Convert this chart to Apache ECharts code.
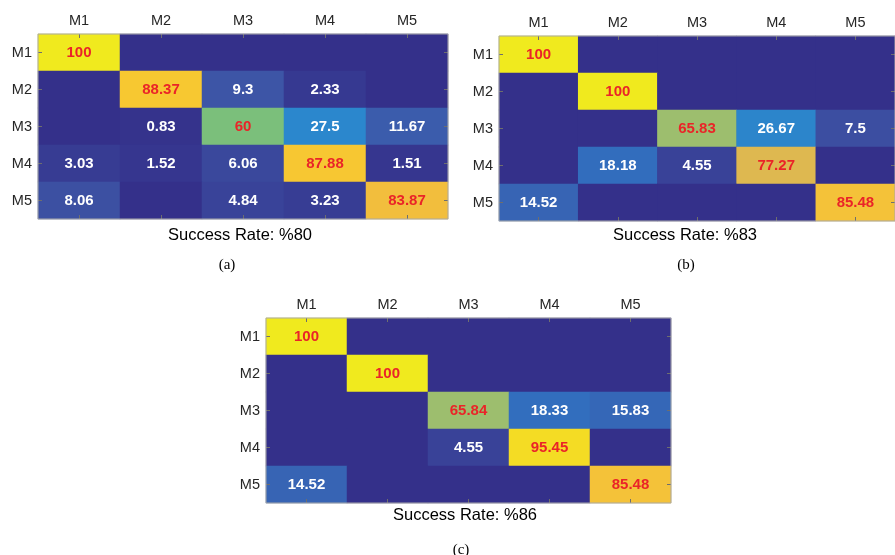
<!DOCTYPE html>
<html>
<head>
<meta charset="utf-8">
<script src="https://cdn.jsdelivr.net/npm/echarts@6/dist/echarts.min.js"></script>
<style>
html,body{margin:0;padding:0;background:#fff;}
#chart{width:895px;height:555px;}
</style>
</head>
<body>
<div id="chart"></div>
<script>
const categories = ['M1', 'M2', 'M3', 'M4', 'M5'];

const matrixA = [
  [100, 0, 0, 0, 0],
  [0, 88.37, 9.3, 2.33, 0],
  [0, 0.83, 60, 27.5, 11.67],
  [3.03, 1.52, 6.06, 87.88, 1.51],
  [8.06, 0, 4.84, 3.23, 83.87]
];
const matrixB = [
  [100, 0, 0, 0, 0],
  [0, 100, 0, 0, 0],
  [0, 0, 65.83, 26.67, 7.5],
  [0, 18.18, 4.55, 77.27, 0],
  [14.52, 0, 0, 0, 85.48]
];
const matrixC = [
  [100, 0, 0, 0, 0],
  [0, 100, 0, 0, 0],
  [0, 0, 65.84, 18.33, 15.83],
  [0, 0, 4.55, 95.45, 0],
  [14.52, 0, 0, 0, 85.48]
];
const successRates = ['Success Rate: %80', 'Success Rate: %83', 'Success Rate: %86'];
const panelLabels = ['(a)', '(b)', '(c)'];

const matrices = [matrixA, matrixB, matrixC];
const grids = [
  {left: 38, top: 34, width: 410, height: 185},
  {left: 499, top: 36, width: 405, height: 185},
  {left: 266, top: 318, width: 405, height: 185}
];
const captionPos = [
  {sx: 240, sy: 235, lx: 227, ly: 265},
  {sx: 685, sy: 235, lx: 686, ly: 265},
  {sx: 465, sy: 515, lx: 461, ly: 550}
];

const sans = '"Liberation Sans", Arial, Helvetica, sans-serif';
const RED = '#ea2428';
const ZERO_COLOR = '#34308a';

const xAxes = [], yAxes = [], series = [], graphics = [];
matrices.forEach((m, gi) => {
  const tickStyle = {show: true, inside: true, length: 4, alignWithLabel: true, lineStyle: {color: '#6e6e6e', width: 1}};
  xAxes.push({
    type: 'category', data: categories, gridIndex: gi, position: 'top', z: 5,
    axisLine: {show: false}, axisTick: tickStyle, splitLine: {show: false},
    axisLabel: {color: '#262626', fontSize: 14.5, fontFamily: sans, margin: 6}
  });
  xAxes.push({
    type: 'category', data: categories, gridIndex: gi, position: 'bottom', z: 5,
    axisLine: {show: false}, axisTick: tickStyle, axisLabel: {show: false}, splitLine: {show: false}
  });
  yAxes.push({
    type: 'category', data: categories, gridIndex: gi, inverse: true, position: 'left', z: 5,
    axisLine: {show: false}, axisTick: tickStyle, splitLine: {show: false},
    axisLabel: {color: '#262626', fontSize: 14.5, fontFamily: sans, margin: 6}
  });
  yAxes.push({
    type: 'category', data: categories, gridIndex: gi, inverse: true, position: 'right', z: 5,
    axisLine: {show: false}, axisTick: tickStyle, axisLabel: {show: false}, splitLine: {show: false}
  });
  const data = [];
  m.forEach((row, r) => row.forEach((v, c) => {
    data.push({value: [c, r, v], label: {color: r === c ? RED : '#ffffff'}});
  }));
  series.push({
    type: 'heatmap',
    xAxisIndex: gi * 2,
    yAxisIndex: gi * 2,
    data: data,
    label: {
      show: true, fontSize: 15, fontWeight: 'bold', fontFamily: sans,
      formatter: p => p.value[2] === 0 ? '' : String(p.value[2])
    },
    itemStyle: {borderWidth: 0},
    emphasis: {disabled: true}
  });
  graphics.push({
    type: 'text', x: captionPos[gi].sx, y: captionPos[gi].sy, z: 10,
    style: {text: successRates[gi], font: '16.5px ' + sans, fill: '#000', textAlign: 'center', textVerticalAlign: 'middle'}
  });
  graphics.push({
    type: 'text', x: captionPos[gi].lx, y: captionPos[gi].ly, z: 10,
    style: {text: panelLabels[gi], font: '15px "Liberation Serif", "DejaVu Serif", serif', fill: '#000', textAlign: 'center', textVerticalAlign: 'middle'}
  });
});

const frameGrids = grids.map(g => Object.assign({show: true, borderColor: '#a8a8a8', borderWidth: 1, backgroundColor: 'transparent', z: 6}, g));
const backGrids = grids.map(g => Object.assign({show: true, borderWidth: 0, borderColor: 'transparent', backgroundColor: ZERO_COLOR, z: 0}, g));

const chart = echarts.init(document.getElementById('chart'), null, {renderer: 'canvas'});
chart.setOption({
  animation: false,
  backgroundColor: '#ffffff',
  grid: frameGrids.concat(backGrids),
  xAxis: xAxes,
  yAxis: yAxes,
  visualMap: {
    show: false, type: 'continuous', min: 0, max: 100, seriesIndex: [0, 1, 2], dimension: 2,
    inRange: {color: [ZERO_COLOR, '#3e58a8', '#2f72c2', '#2a8ed0', '#1fa6c4', '#44b49c', '#7bbf7b', '#b5bd64', '#eeb648', '#f9cb2c', '#f0ea1e']}
  },
  series: series,
  graphic: graphics
});
</script>
</body>
</html>
